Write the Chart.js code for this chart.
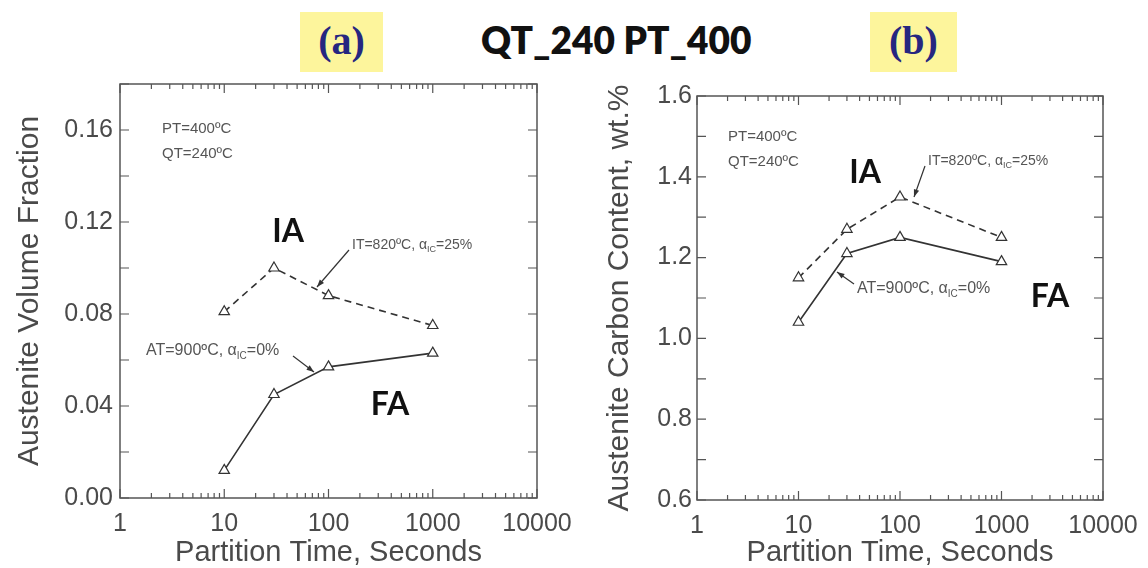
<!DOCTYPE html>
<html>
<head>
<meta charset="utf-8">
<script src="https://cdn.jsdelivr.net/npm/chart.js@4.4.1/dist/chart.umd.min.js"></script>
<style>
  body { margin: 0; background: #fff; width: 1148px; height: 568px; overflow: hidden; position: relative; }
  .tag { position: absolute; top: 12px; height: 60px; background: #fdf59c; font-family: "Liberation Serif", "DejaVu Serif", serif;
         font-weight: bold; font-size: 40px; color: #262680; text-align: center; line-height: 58px; }
  #tagA { left: 300px; width: 83px; }
  #tagB { left: 870px; width: 87px; }
  #title { position: absolute; left: 481px; top: 17px; font-family: Lato, "Open Sans", sans-serif; font-weight: 800;
           font-size: 37px; color: #111; white-space: nowrap; }
  canvas { position: absolute; top: 0; }
  #chartA { left: 0; }
  #chartB { left: 575px; }
</style>
</head>
<body>
<div class="tag" id="tagA">(a)</div>
<div id="title">QT_240 PT_400</div>
<div class="tag" id="tagB">(b)</div>
<canvas id="chartA" width="575" height="568"></canvas>
<canvas id="chartB" width="573" height="568"></canvas>
<script>
// partition times (s)
const times = [10, 30, 100, 1000];
const xTicks = [1, 10, 100, 1000, 10000];

// (a) austenite volume fraction
const fracIA = [0.081, 0.100, 0.088, 0.075];
const fracFA = [0.012, 0.045, 0.057, 0.063];
const yTicksA = [0, 0.04, 0.08, 0.12, 0.16];

// (b) austenite carbon content, wt.%
const carbonIA = [1.15, 1.27, 1.35, 1.25];
const carbonFA = [1.04, 1.21, 1.25, 1.19];
const yTicksB = [0.6, 0.8, 1.0, 1.2, 1.4, 1.6];

const GREY = '#4a4a4a';
const LINE = '#333';
const FAMILY = '"Liberation Sans", Arial, sans-serif';
const tickFont = { family: FAMILY, size: 25 };
const xTitleFont = { family: FAMILY, size: 29 };
const yTitleFont = { family: FAMILY, size: 30 };

function series(vals) {
    return vals.map((v, i) => ({ x: times[i], y: v }));
}

function dataset(vals, dashed) {
    return {
        data: series(vals),
        showLine: true,
        borderColor: LINE,
        borderWidth: 1.6,
        borderDash: dashed ? [7, 5] : [],
        pointStyle: 'triangle',
        pointRadius: 6,
        pointBackgroundColor: '#fff',
        pointBorderColor: LINE,
        pointBorderWidth: 1.2,
        tension: 0
    };
}

// box round the plot with inward ticks on every side
const frameTicks = {
    id: 'frameTicks',
    beforeDatasetsDraw(chart, args, opts) {
        const { ctx, chartArea: a, scales: { x, y } } = chart;
        ctx.save();
        ctx.strokeStyle = '#555';
        ctx.lineWidth = 1.5;
        ctx.strokeRect(a.left, a.top, a.right - a.left, a.bottom - a.top);
        ctx.lineWidth = 1.2;
        ctx.beginPath();
        for (let d = 1; d < 10000; d *= 10) {
            for (let k = 1; k <= 10; k++) {
                const px = x.getPixelForValue(k * d);
                const len = (k === 1 || k === 10) ? 9 : 5;
                ctx.moveTo(px, a.bottom); ctx.lineTo(px, a.bottom - len);
                ctx.moveTo(px, a.top); ctx.lineTo(px, a.top + len);
            }
        }
        const n = Math.round((y.max - y.min) / opts.step);
        for (let i = 0; i <= n; i++) {
            const py = y.getPixelForValue(y.min + i * opts.step);
            ctx.moveTo(a.left, py); ctx.lineTo(a.left + 9, py);
            ctx.moveTo(a.right, py); ctx.lineTo(a.right - 9, py);
        }
        ctx.stroke();
        ctx.restore();
    }
};

// small label with alpha_IC subscript
function alphaNote(ctx, x, y, size, pre, post) {
    const big = size + 'px ' + FAMILY;
    ctx.font = big;
    ctx.fillText(pre, x, y);
    let w = ctx.measureText(pre).width;
    ctx.fillText('\u03b1', x + w, y);
    w += ctx.measureText('\u03b1').width;
    ctx.font = Math.round(size * 0.65) + 'px ' + FAMILY;
    ctx.fillText('IC', x + w, y + size * 0.35);
    w += ctx.measureText('IC').width;
    ctx.font = big;
    ctx.fillText(post, x + w, y);
}

function arrow(ctx, x1, y1, x2, y2) {
    ctx.beginPath();
    ctx.moveTo(x1, y1);
    ctx.lineTo(x2, y2);
    ctx.stroke();
    const ang = Math.atan2(y2 - y1, x2 - x1);
    ctx.beginPath();
    ctx.moveTo(x2, y2);
    ctx.lineTo(x2 - 8 * Math.cos(ang - 0.35), y2 - 8 * Math.sin(ang - 0.35));
    ctx.lineTo(x2 - 8 * Math.cos(ang + 0.35), y2 - 8 * Math.sin(ang + 0.35));
    ctx.closePath();
    ctx.fill();
}

const notes = {
    id: 'notes',
    afterDraw(chart, args, o) {
        const ctx = chart.ctx;
        ctx.save();
        ctx.fillStyle = '#555';
        ctx.strokeStyle = '#333';
        ctx.lineWidth = 1.2;
        ctx.textBaseline = 'middle';
        ctx.font = '15px ' + FAMILY;
        ctx.fillText('PT=400\u00baC', o.pt[0], o.pt[1]);
        ctx.fillText('QT=240\u00baC', o.pt[0], o.pt[1] + 25);
        alphaNote(ctx, o.it[0], o.it[1], 14, 'IT=820\u00baC, ', '=25%');
        alphaNote(ctx, o.at[0], o.at[1], 16, 'AT=900\u00baC, ', '=0%');
        ctx.fillStyle = '#333';
        arrow(ctx, ...o.itArrow);
        arrow(ctx, ...o.atArrow);
        ctx.fillStyle = '#111';
        ctx.textAlign = 'center';
        ctx.font = 'bold 32px Lato, "Open Sans", sans-serif';
        ctx.fillText('IA', o.ia[0], o.ia[1]);
        ctx.fillText('FA', o.fa[0], o.fa[1]);
        ctx.restore();
    }
};

function makeChart(id, ia, fa, yMin, yMax, yTicks, digits, yTitle, lay, noteOpts) {
    return new Chart(document.getElementById(id), {
        type: 'scatter',
        data: { datasets: [dataset(ia, true), dataset(fa, false)] },
        plugins: [frameTicks, notes],
        options: {
            responsive: false,
            animation: false,
            layout: { padding: { left: 0, right: lay.right, top: lay.top, bottom: 0 } },
            plugins: {
                legend: { display: false },
                tooltip: { enabled: false },
                frameTicks: { step: lay.step },
                notes: noteOpts
            },
            scales: {
                x: {
                    type: 'logarithmic',
                    min: 1, max: 10000,
                    afterBuildTicks: s => { s.ticks = xTicks.map(v => ({ value: v })); },
                    // fixed height, and let the end labels overhang the plot box
                    afterFit: s => { s.height = lay.xh; s.paddingLeft = 0; s.paddingRight = 0; },
                    grid: { display: false, drawTicks: false },
                    border: { display: false },
                    ticks: { font: tickFont, color: GREY, padding: 11, maxRotation: 0, callback: v => String(v) },
                    title: { display: true, text: 'Partition Time, Seconds', font: xTitleFont, color: GREY, padding: { top: 0, bottom: -2 } }
                },
                y: {
                    min: yMin, max: yMax,
                    afterBuildTicks: s => { s.ticks = yTicks.map(v => ({ value: v })); },
                    afterFit: s => { s.width = lay.yw; s.paddingTop = 0; s.paddingBottom = 0; },
                    grid: { display: false, drawTicks: false },
                    border: { display: false },
                    ticks: { font: tickFont, color: GREY, padding: lay.ypad, callback: v => v.toFixed(digits) },
                    title: { display: true, text: yTitle, font: yTitleFont, color: GREY, padding: { top: lay.tpad, bottom: 0 } }
                }
            }
        }
    });
}

makeChart('chartA', fracIA, fracFA, 0, 0.18, yTicksA, 2, 'Austenite Volume Fraction',
    { right: 38, top: 84, xh: 70, yw: 120, step: 0.02, tpad: 12, ypad: 7 },
    { pt: [162, 129], it: [352, 245], at: [146, 351], itArrow: [349, 250, 317, 287], atArrow: [293, 356, 314, 372],
      ia: [288, 232], fa: [390, 405] });

makeChart('chartB', carbonIA, carbonFA, 0.6, 1.6, yTicksB, 1, 'Austenite Carbon Content, wt.%',
    { right: 45, top: 96, xh: 68, yw: 122, step: 0.1, tpad: 27, ypad: 5 },
    { pt: [153, 137], it: [353, 161], at: [282, 289], itArrow: [350, 166, 339, 197], atArrow: [279, 284, 262, 272],
      ia: [290, 173], fa: [475, 297] });
</script>
</body>
</html>
